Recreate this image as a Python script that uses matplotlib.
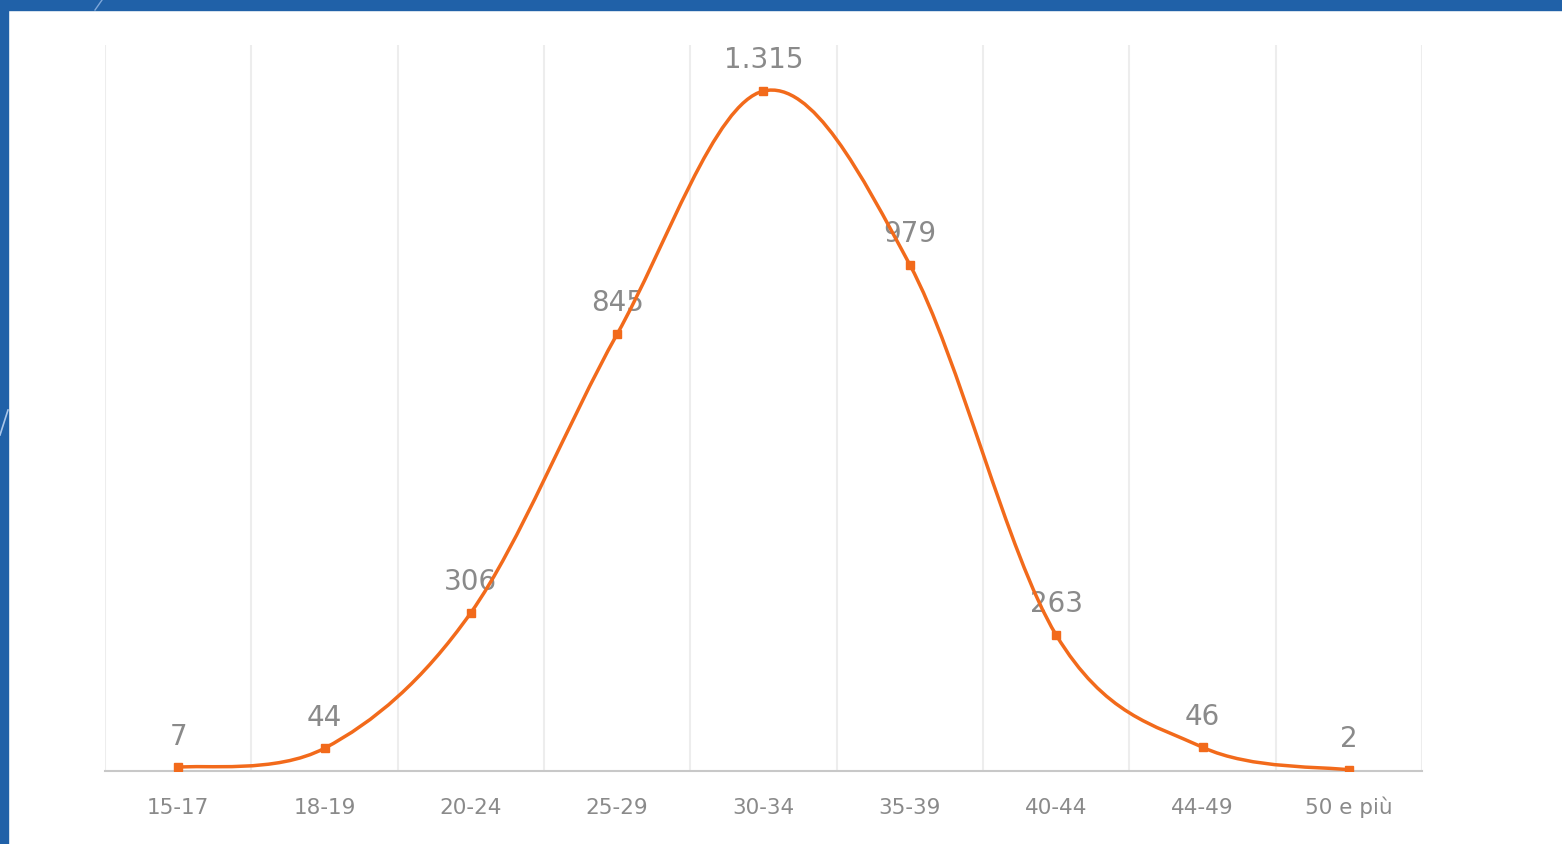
import matplotlib
matplotlib.use("Agg")
import matplotlib.pyplot as plt
from matplotlib.path import Path
from matplotlib.patches import PathPatch, Rectangle
from matplotlib.lines import Line2D
import numpy as np

categories = ["15-17", "18-19", "20-24", "25-29", "30-34", "35-39", "40-44", "44-49", "50 e più"]
values = [7, 44, 306, 845, 1315, 979, 263, 46, 2]

ORANGE = "#F26A1B"
GRAY_TXT = "#8A8A8A"
BLUE = "#2061A8"

fig = plt.figure(figsize=(15.62, 8.44), dpi=100)
fig.patch.set_facecolor("white")

# slide frame
fig.patches.append(Rectangle((0, 1 - 10 / 844), 1, 10 / 844, transform=fig.transFigure,
                             color=BLUE, zorder=0))
fig.patches.append(Rectangle((0, 0), 8 / 1562, 1, transform=fig.transFigure,
                             color=BLUE, zorder=0))
fig.lines.append(Line2D([95 / 1562, 102 / 1562], [1 - 10 / 844, 1 - 0 / 844],
                        transform=fig.transFigure, color="#7FA8DA", lw=1, zorder=1))
fig.lines.append(Line2D([0 / 1562, 8 / 1562], [1 - 435 / 844, 1 - 410 / 844],
                        transform=fig.transFigure, color="#A9C6EA", lw=1.2, zorder=1))

ax = fig.add_axes([105 / 1562, 1 - 771 / 844, 1317 / 1562, 726 / 844])
n = len(categories)
x = np.arange(n)
ax.set_xlim(-0.5, n - 0.5)
ax.set_ylim(0, 1404)

# vertical gridlines at category boundaries
for b in np.arange(-0.5, n, 1.0):
    ax.axvline(b, color="#EDEDED", lw=1.5, zorder=0)

# smoothed line (Catmull-Rom style Bezier as in Excel)
pts = np.column_stack([x, values]).astype(float)
verts = [tuple(pts[0])]
codes = [Path.MOVETO]
t = 1 / 6
for i in range(n - 1):
    p0 = pts[i - 1] if i > 0 else pts[i]
    p1 = pts[i]
    p2 = pts[i + 1]
    p3 = pts[i + 2] if i + 2 < n else pts[i + 1]
    c1 = p1 + (p2 - p0) * t
    c2 = p2 - (p3 - p1) * t
    verts += [tuple(c1), tuple(c2), tuple(p2)]
    codes += [Path.CURVE4] * 3
ax.add_patch(PathPatch(Path(verts, codes), facecolor="none", edgecolor=ORANGE,
                       lw=2.5, zorder=3, capstyle="round", joinstyle="round"))
ax.plot(x, values, linestyle="none", marker="s", markersize=5.5, color=ORANGE, zorder=4)

for xi, v in zip(x, values):
    lab = f"{v:,}".replace(",", ".")
    ax.annotate(lab, (xi, v), xytext=(0, 22), textcoords="offset points",
                ha="center", va="center", fontsize=20, color=GRAY_TXT, zorder=2)

ax.set_xticks(x)
ax.set_xticklabels(categories, fontsize=15.5, color=GRAY_TXT)
for lbl in ax.get_xticklabels():
    lbl.set_verticalalignment("baseline")
ax.tick_params(axis="x", length=0, pad=31)
ax.set_yticks([])
for s in ["top", "right", "left"]:
    ax.spines[s].set_visible(False)
ax.spines["bottom"].set_color("#C8C8C8")
ax.spines["bottom"].set_linewidth(1.5)
ax.spines["bottom"].set_zorder(1)

fig.savefig("out.png", dpi=100, facecolor="white")
